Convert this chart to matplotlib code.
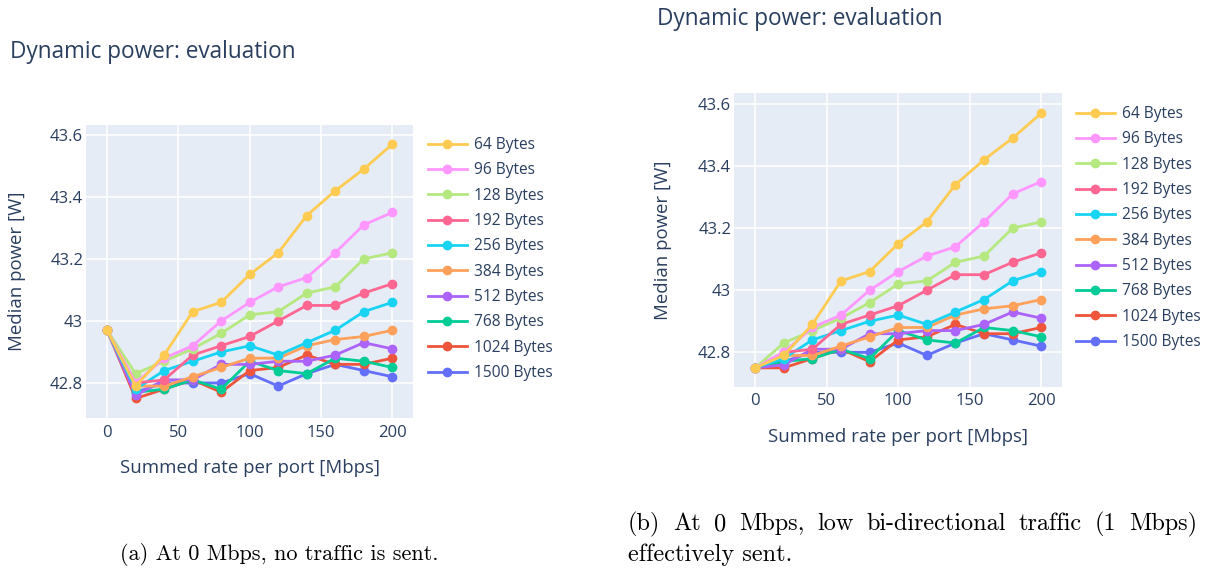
import matplotlib
matplotlib.use("Agg")
import matplotlib.pyplot as plt
from matplotlib.ticker import FuncFormatter

# summed rate per port [Mbps]
rates = [0, 20, 40, 60, 80, 100, 120, 140, 160, 180, 200]

# value at 0 Mbps differs between the two runs, the rest is shared
start_a = 42.97
start_b = 42.75

labels = ["64 Bytes", "96 Bytes", "128 Bytes", "192 Bytes", "256 Bytes",
          "384 Bytes", "512 Bytes", "768 Bytes", "1024 Bytes", "1500 Bytes"]

# median power [W] for 20..200 Mbps
p64 = [42.79, 42.89, 43.03, 43.06, 43.15, 43.22, 43.34, 43.42, 43.49, 43.57]
p96 = [42.80, 42.88, 42.92, 43.00, 43.06, 43.11, 43.14, 43.22, 43.31, 43.35]
p128 = [42.83, 42.87, 42.91, 42.96, 43.02, 43.03, 43.09, 43.11, 43.20, 43.22]
p192 = [42.80, 42.81, 42.89, 42.92, 42.95, 43.00, 43.05, 43.05, 43.09, 43.12]
p256 = [42.78, 42.84, 42.87, 42.90, 42.92, 42.89, 42.93, 42.97, 43.03, 43.06]
p384 = [42.79, 42.79, 42.82, 42.85, 42.88, 42.88, 42.92, 42.94, 42.95, 42.97]
p512 = [42.76, 42.81, 42.81, 42.86, 42.86, 42.87, 42.87, 42.89, 42.93, 42.91]
p768 = [42.77, 42.78, 42.81, 42.78, 42.87, 42.84, 42.83, 42.88, 42.87, 42.85]
p1024 = [42.75, 42.78, 42.81, 42.77, 42.84, 42.85, 42.89, 42.86, 42.86, 42.88]
p1500 = [42.77, 42.80, 42.80, 42.80, 42.83, 42.79, 42.83, 42.86, 42.84, 42.82]

series = [p64, p96, p128, p192, p256, p384, p512, p768, p1024, p1500]

colors = ["#FECB52", "#FF97FF", "#B6E880", "#FF6692", "#19D3F3",
          "#FFA15A", "#AB63FA", "#00CC96", "#EF553B", "#636EFA"]

TXT = "#2a3f5f"
W, H = 1210, 569

plt.rcParams["font.family"] = ["Open Sans", "DejaVu Sans"]


def px(x0, y0, x1, y1):
    return [x0 / W, 1 - y1 / H, (x1 - x0) / W, (y1 - y0) / H]


def panel(ax, start, legend_xy, xlab_y, ylab_x):
    ax.set_facecolor("#E5ECF6")
    for s in ax.spines.values():
        s.set_visible(False)
    # plot the small packets last so they sit on top
    for lab, vals, c in reversed(list(zip(labels, series, colors))):
        ax.plot(rates, [start] + vals, color=c, lw=2, marker="o", ms=6,
                label=lab, zorder=3)
    ax.set_xlim(-14.8, 214.5)
    ax.set_xticks([0, 50, 100, 150, 200])
    ax.set_yticks([42.8, 43.0, 43.2, 43.4, 43.6])
    ax.yaxis.set_major_formatter(FuncFormatter(lambda v, p: "{:g}".format(round(v, 2))))
    ax.grid(True, color="white", lw=1.1, zorder=0)
    ax.set_axisbelow(True)
    ax.tick_params(length=0, labelsize=12, labelcolor=TXT)
    ax.tick_params(axis="x", pad=5)
    ax.tick_params(axis="y", pad=2)
    ax.set_xlabel("Summed rate per port [Mbps]", fontsize=13.4, color=TXT)
    ax.set_ylabel("Median power [W]", fontsize=13.4, color=TXT)
    ax.xaxis.set_label_coords(0.5, xlab_y)
    ax.yaxis.set_label_coords(ylab_x, 0.5)

    h, l = ax.get_legend_handles_labels()
    leg = ax.legend(h[::-1], l[::-1], loc="upper left",
                    bbox_to_anchor=(legend_xy[0] / W, 1 - legend_xy[1] / H),
                    bbox_transform=ax.figure.transFigure, frameon=False,
                    fontsize=11.2, handlelength=2.5, handletextpad=0.45,
                    labelspacing=0.6, borderpad=0, borderaxespad=0)
    for t in leg.get_texts():
        t.set_color(TXT)


fig = plt.figure(figsize=(W / 100, H / 100), dpi=100)

ax1 = fig.add_axes(px(86, 125, 413, 418))
ax1.set_ylim(42.687, 43.632)
panel(ax1, start_a, (428, 137), -0.14, -0.183)

ax2 = fig.add_axes(px(734, 93, 1062, 386.5))
ax2.set_ylim(42.69, 43.635)
panel(ax2, start_b, (1076, 106), -0.141, -0.189)

fig.text(9.6 / W, 1 - 52 / H, "Dynamic power: evaluation", fontsize=16.3,
         color=TXT, va="center")
fig.text(657 / W, 1 - 19 / H, "Dynamic power: evaluation", fontsize=16.3,
         color=TXT, va="center")

fig.text(120 / W, 1 - 555 / H, "(a) At 0 Mbps, no traffic is sent.",
         fontsize=16, family="cmr10", va="center")

cap = dict(fontsize=17.5, family="cmr10", va="center")
fig.text(628 / W, 1 - 555 / H, "effectively sent.", **cap)

# first line of caption (b) is justified, so spread the words out
words = "(b) At 0 Mbps, low bi-directional traffic (1 Mbps) is".split()
r = fig.canvas.get_renderer()
tmp = [fig.text(0, 0, w, **cap) for w in words]
widths = [t.get_window_extent(r).width for t in tmp]
for t in tmp:
    t.remove()
gap = (1197 - 628 - sum(widths[:-1])) / (len(words) - 2)
x = 628
for w, wd in zip(words, widths):
    fig.text(x / W, 1 - 524 / H, w, **cap)
    x += wd + gap

fig.savefig("out.png", dpi=100)
